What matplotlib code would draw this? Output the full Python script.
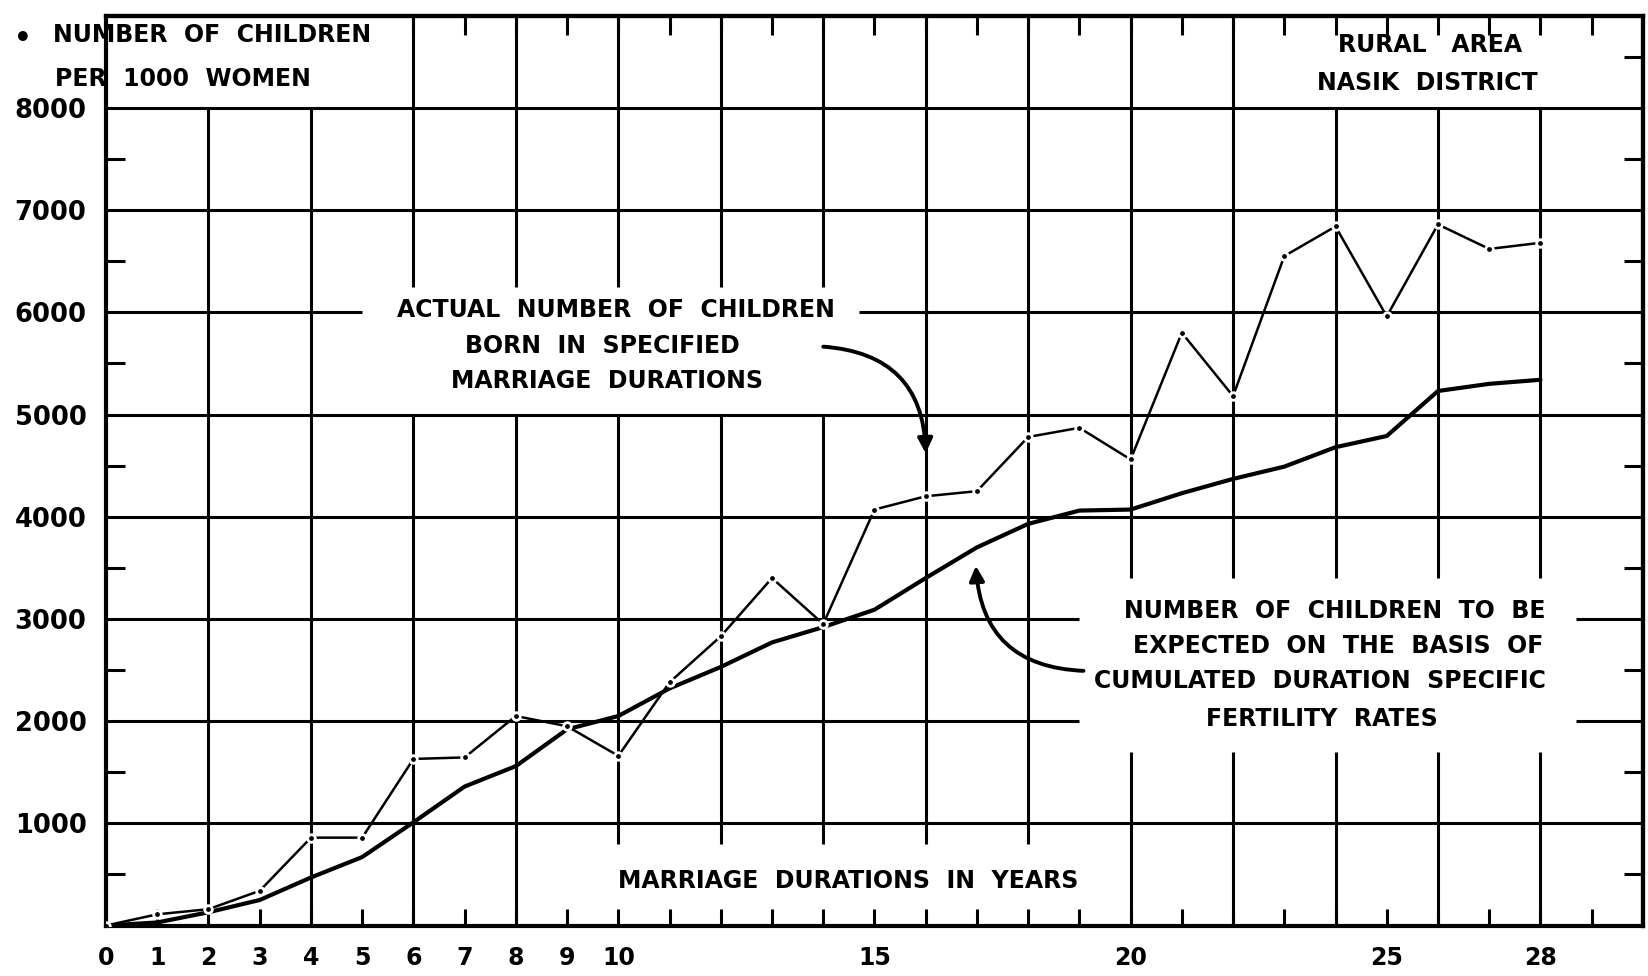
import numpy as np
import matplotlib
matplotlib.use("Agg")
import matplotlib.pyplot as plt

# marriage durations (years) and children per 1000 women
years = list(range(0, 29))
actual = [0, 110, 160, 340, 860, 860, 1630, 1645, 2050, 1950, 1660, 2380, 2830, 3400,
          2950, 4070, 4200, 4250, 4780, 4870, 4560, 5800, 5180, 6550, 6840, 5960, 6860,
          6620, 6680]
expected = [0, 30, 130, 250, 470, 670, 1010, 1360, 1560, 1920, 2050, 2320, 2530, 2770,
            2920, 3090, 3400, 3700, 3930, 4060, 4070, 4230, 4370, 4490, 4680, 4790, 5230,
            5300, 5340]

xtick_pos = list(range(0, 30))
xtick_named = [0, 1, 2, 3, 4, 5, 6, 7, 8, 9, 10, 15, 20, 25, 28]
ytick_pos = [1000, 2000, 3000, 4000, 5000, 6000, 7000, 8000]

plt.rcParams['font.family'] = ['DejaVu Sans']
plt.rcParams['font.weight'] = 'bold'

fig = plt.figure(figsize=(16.49, 9.76), dpi=100)
ax = fig.add_axes([0.0643, 0.0517, 0.932, 0.932])
ax.set_xlim(0, 30)
ax.set_ylim(0, 8900)

K = 'black'
GLW = 2.2

# hand drawn grid, broken where the notes sit
hsegs = [(1000, 0, 30), (2000, 0, 19.0), (2000, 28.7, 30), (3000, 0, 19.0),
         (3000, 28.7, 30), (4000, 0, 30), (5000, 0, 30), (6000, 0, 5.0),
         (6000, 14.7, 30), (7000, 0, 30), (8000, 0, 30)]
for y, x0, x1 in hsegs:
    ax.hlines(y, x0, x1, color=K, lw=GLW, zorder=1)

vsegs = {2: [(0, 8000)], 4: [(0, 8000)],
         6: [(0, 5000), (6250, 8900)], 8: [(0, 5000), (6250, 8900)],
         10: [(800, 5000), (6250, 8900)], 12: [(800, 5000), (6250, 8900)],
         14: [(800, 5000), (6250, 8900)],
         16: [(800, 8900)], 18: [(800, 8900)],
         20: [(0, 1700), (3400, 8900)], 22: [(0, 1700), (3400, 8900)],
         24: [(0, 1700), (3400, 8000)], 26: [(0, 1700), (3400, 8000)],
         28: [(0, 1700), (3400, 8000)]}
for x, parts in vsegs.items():
    for y0, y1 in parts:
        ax.vlines(x, y0, y1, color=K, lw=GLW, zorder=1)

# curves
ax.plot(years, expected, color=K, lw=3.0, zorder=3, solid_capstyle='round')
ax.plot(years, actual, color=K, lw=1.8, marker='o', ms=5.5, mfc=K, mec='white',
        mew=2.0, zorder=4)

# ticks
ax.set_xticks(xtick_pos)
ax.set_xticklabels([str(v) if v in xtick_named else '' for v in xtick_pos])
ax.set_yticks(ytick_pos)
ax.set_yticklabels([str(v) for v in ytick_pos])
ax.set_yticks(np.arange(500, 8000, 1000), minor=True)
ax.tick_params(axis='x', which='major', direction='in', length=12, width=2.2,
               top=False, bottom=True, labelsize=17, pad=15)
ax.tick_params(axis='y', which='major', length=0, labelsize=18.5, pad=14)
ax.tick_params(axis='y', which='minor', direction='in', length=14, width=2.2,
               left=True, right=False)
for lab in ax.get_xticklabels() + ax.get_yticklabels():
    lab.set_fontweight('bold')
for sp in ax.spines.values():
    sp.set_linewidth(3)

# top and right edge ticks
top = ax.secondary_xaxis('top')
top.set_xticks(list(range(6, 30)))
top.tick_params(direction='in', length=14, width=2.2, labeltop=False)
top.spines['top'].set_linewidth(3)
right = ax.secondary_yaxis('right')
right.set_yticks(list(np.arange(500, 9000, 1000)))
right.tick_params(direction='in', length=14, width=2.2, labelright=False)
right.spines['right'].set_linewidth(3)

fs = 17
# notes
ax.text(-1.03, 8713, "NUMBER  OF  CHILDREN", fontsize=fs, fontweight='bold',
        ha='left', va='center', clip_on=False, zorder=5)
ax.text(-0.99, 8280, "PER  1000  WOMEN", fontsize=fs, fontweight='bold',
        ha='left', va='center', clip_on=False, zorder=5)
ax.text(-1.62, 8670, "•", fontsize=20, ha='center', va='center', clip_on=False)

ax.text(25.85, 8620, "RURAL   AREA", fontsize=fs, ha='center', va='center')
ax.text(25.8, 8240, "NASIK  DISTRICT", fontsize=fs, ha='center', va='center')

ax.text(9.96, 6025, "ACTUAL  NUMBER  OF  CHILDREN", fontsize=fs, ha='center', va='center')
ax.text(9.68, 5675, "BORN  IN  SPECIFIED", fontsize=fs, ha='center', va='center')
ax.text(9.78, 5324, "MARRIAGE  DURATIONS", fontsize=fs, ha='center', va='center')

ax.text(23.98, 3079, "NUMBER  OF  CHILDREN  TO  BE", fontsize=fs, ha='center', va='center')
ax.text(24.05, 2739, "EXPECTED  ON  THE  BASIS  OF", fontsize=fs, ha='center', va='center')
ax.text(23.7, 2389, "CUMULATED  DURATION  SPECIFIC", fontsize=fs, ha='center', va='center')
ax.text(23.74, 2018, "FERTILITY  RATES", fontsize=fs, ha='center', va='center')

ax.text(14.48, 432, "MARRIAGE  DURATIONS  IN  YEARS", fontsize=fs, ha='center', va='center')

# curved pointers
ax.annotate("", xy=(16.0, 4620), xytext=(14.0, 5664),
            arrowprops=dict(arrowstyle='-|>', color=K, lw=2.8, mutation_scale=22,
                            connectionstyle='arc3,rad=-0.45', shrinkA=0, shrinkB=0))
ax.annotate("", xy=(16.98, 3520), xytext=(19.08, 2492),
            arrowprops=dict(arrowstyle='-|>', color=K, lw=2.8, mutation_scale=22,
                            connectionstyle='arc3,rad=-0.45', shrinkA=0, shrinkB=0))

fig.savefig('out.png', dpi=100)
